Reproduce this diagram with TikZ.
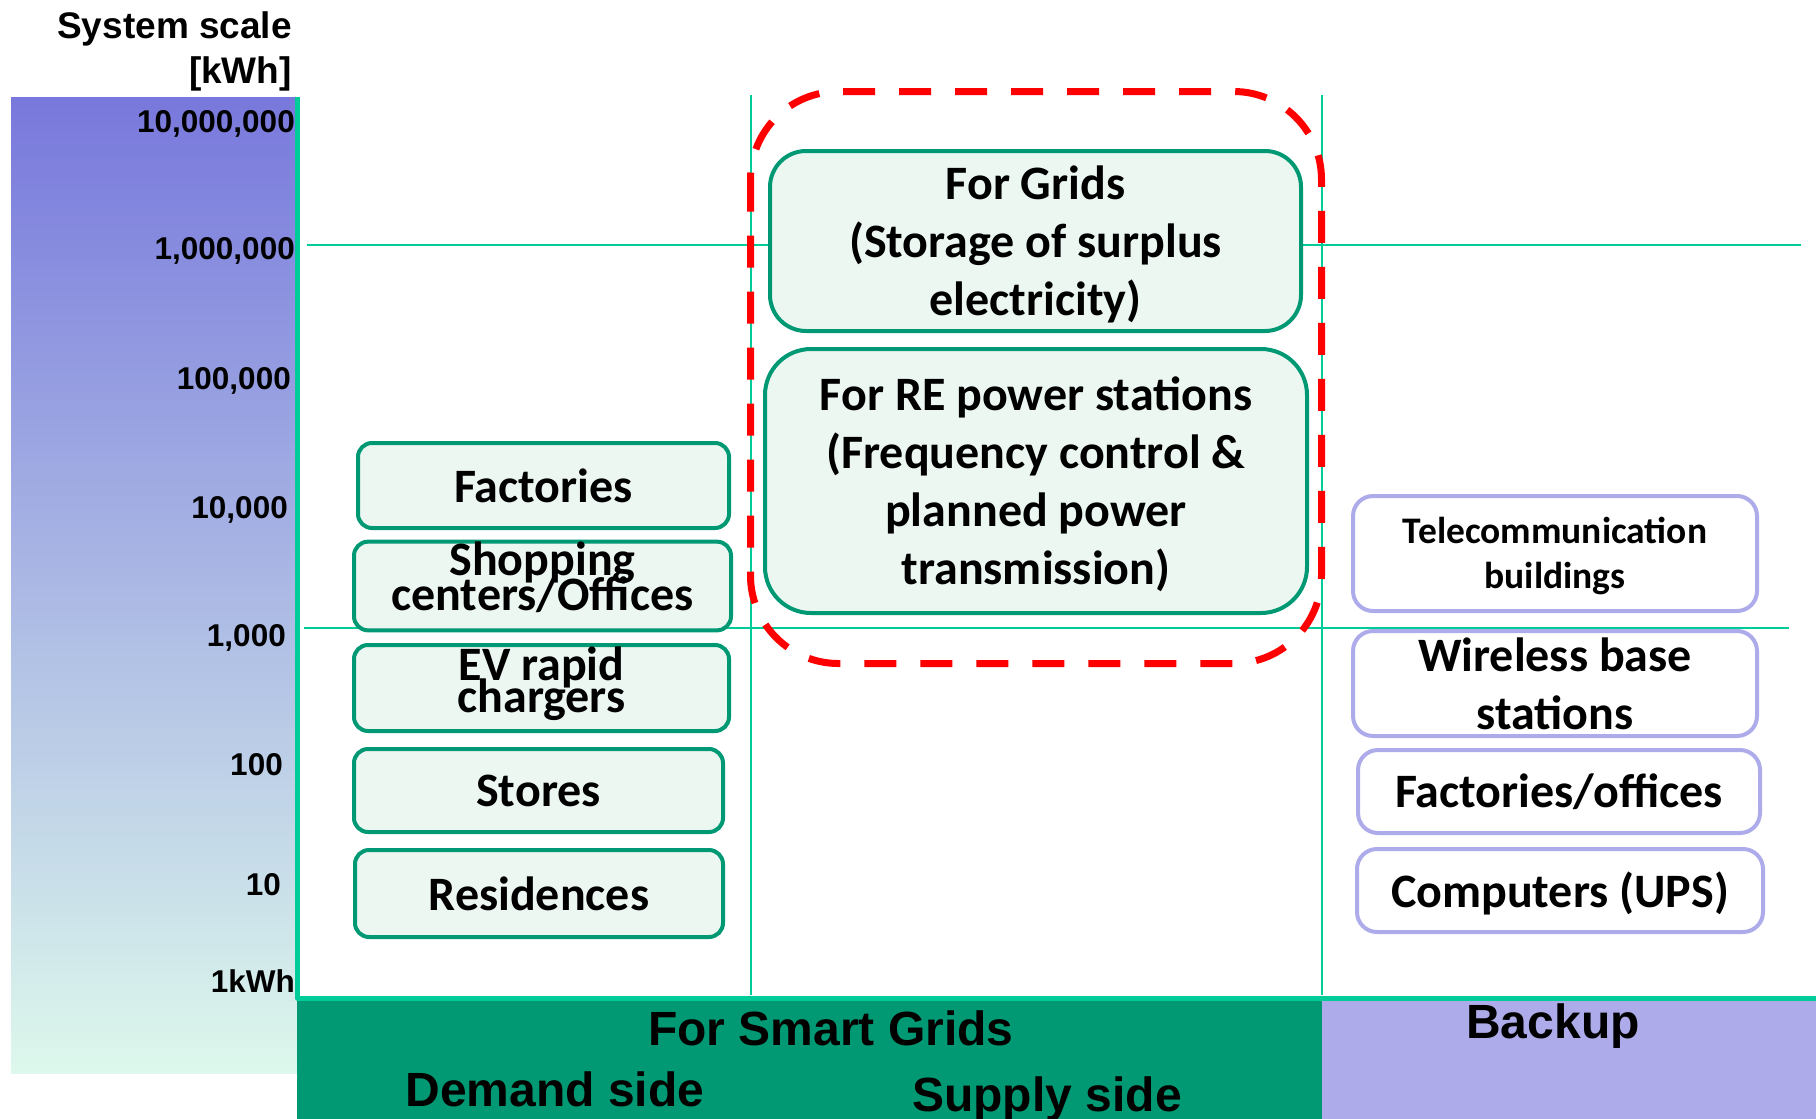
\documentclass[tikz,border=0pt]{standalone}
\usepackage{fontspec}
\setmainfont{Carlito}
\newfontfamily\arialfont{Liberation Sans}
\usetikzlibrary{positioning}
\definecolor{axisgreen}{HTML}{00CC99}
\definecolor{boxgreen}{HTML}{009973}
\definecolor{boxfill}{HTML}{EDF7F2}
\definecolor{backuppurple}{HTML}{ADABEA}
\definecolor{scaletop}{HTML}{7878DC}
\definecolor{scalebottom}{HTML}{DDF8EC}
\definecolor{framered}{HTML}{FF0000}
\newcommand{\boxtextfont}[2]{\fontsize{#1}{#2}\selectfont\bfseries\lineskiplimit=-100pt\lineskip=0pt}
\tikzset{
    every picture/.style={line join=round},
    demandbox/.style={draw=boxgreen,fill=boxfill,line width=4pt,rounded corners=14pt,
      inner sep=0pt,outer sep=0pt,align=center,font=\boxtextfont{48}{58}},
    supplybox/.style={demandbox,rounded corners=36pt},
    backupbox/.style={demandbox,draw=backuppurple,fill=white,rounded corners=20pt},
    gridframe/.style={draw=framered,line width=7pt,rounded corners=88pt,
      dash pattern=on 32pt off 24pt},
    guideline/.style={draw=axisgreen,line width=2pt},
    axisline/.style={draw=axisgreen,line width=5pt},
    ticklabel/.style={anchor=east,inner sep=0pt,text height=23pt,text depth=0pt,
      font=\arialfont\bfseries\fontsize{31.5}{36}\selectfont},
    bandlabel/.style={inner sep=0pt,text height=34pt,text depth=0pt,
      font=\arialfont\bfseries\fontsize{48}{54}\selectfont}
}
\begin{document}
\begin{tikzpicture}[x=1pt,y=-1pt]
  \useasboundingbox (0,0) rectangle (1816,1119);
  \shade[top color=scaletop,bottom color=scalebottom] (11,97) rectangle (297,1073);
  \fill[boxgreen] (297,1000) rectangle (1322,1119);
  \fill[backuppurple] (1322,1000) rectangle (1816,1119);
  \draw[guideline] (307,245) -- (1801,245);
  \draw[guideline] (304,628) -- (1789,628);
  \draw[guideline] (751,95) -- (751,995);
  \draw[guideline] (1322,95) -- (1322,995);
  \draw[axisline] (297.5,97) -- (297.5,998.5) -- (1816,998.5);

  \node[align=right,anchor=east,inner sep=0pt,
    font=\arialfont\bfseries\fontsize{37}{45}\selectfont] (title) at (292,51)
    {System scale\\{[kWh]}};
  \foreach \lab/\xx/\yy [count=\i] in {{10,000,000}/295/121,{1,000,000}/295/248,
      {100,000}/291/378,{10,000}/288/507,{1,000}/286/635,100/283/764,
      10/281/884,1kWh/295/981}
    \node[ticklabel] (tick\i) at (\xx,\yy) {\lab};

  \node[demandbox,minimum width=371pt,minimum height=85pt] (fac) at (543.5,485.5) {Factories};
  \node[demandbox,minimum width=377pt,minimum height=86pt,font=\boxtextfont{48}{35},
    text depth=20pt] (shop) at (542.5,586) {Shopping\\centers/Offices};
  \node[demandbox,minimum width=375pt,minimum height=86pt,font=\boxtextfont{48}{32},
    text depth=17pt] (ev) at (541.5,688) {EV rapid\\chargers};
  \node[demandbox,minimum width=369pt,minimum height=83pt] (store) at (538.5,790.5) {Stores};
  \node[demandbox,minimum width=368pt,minimum height=87pt] (res) at (539,893.5) {Residences};

  \node[supplybox,minimum width=531pt,minimum height=180pt,text depth=0pt] (grids) at (1035.5,241)
    {For Grids\\(Storage of surplus\\electricity)};
  \node[supplybox,minimum width=542pt,minimum height=264pt,rounded corners=46pt,
    text depth=-5pt] (re) at (1036,481)
    {For RE power stations\\(Frequency control \&\\planned power\\transmission)};
  \draw[gridframe] (750.5,91.5) rectangle (1321.5,663.5);

  \node[backupbox,minimum width=404pt,minimum height=115pt,font=\boxtextfont{37.5}{45},
    text depth=1pt] (tele) at (1555,553.5) {Telecommunication\\buildings};
  \node[backupbox,minimum width=404pt,minimum height=105pt] (wireless) at (1555,683.5)
    {Wireless base\\stations};
  \node[backupbox,minimum width=402pt,minimum height=83pt,text depth=1.5pt] (facoff)
    at (1559,791.5) {Factories/offices};
  \node[backupbox,minimum width=406pt,minimum height=83pt,text depth=2pt] (ups)
    at (1560,890.5) {Computers (UPS)};

  \node[bandlabel] (smart) at (831,1028) {For Smart Grids};
  \node[bandlabel] (demand) at (555,1089) {Demand side};
  \node[bandlabel] (supply) at (1047,1094) {Supply side};
  \node[bandlabel] (backup) at (1553,1021) {Backup};
\end{tikzpicture}
\end{document}
